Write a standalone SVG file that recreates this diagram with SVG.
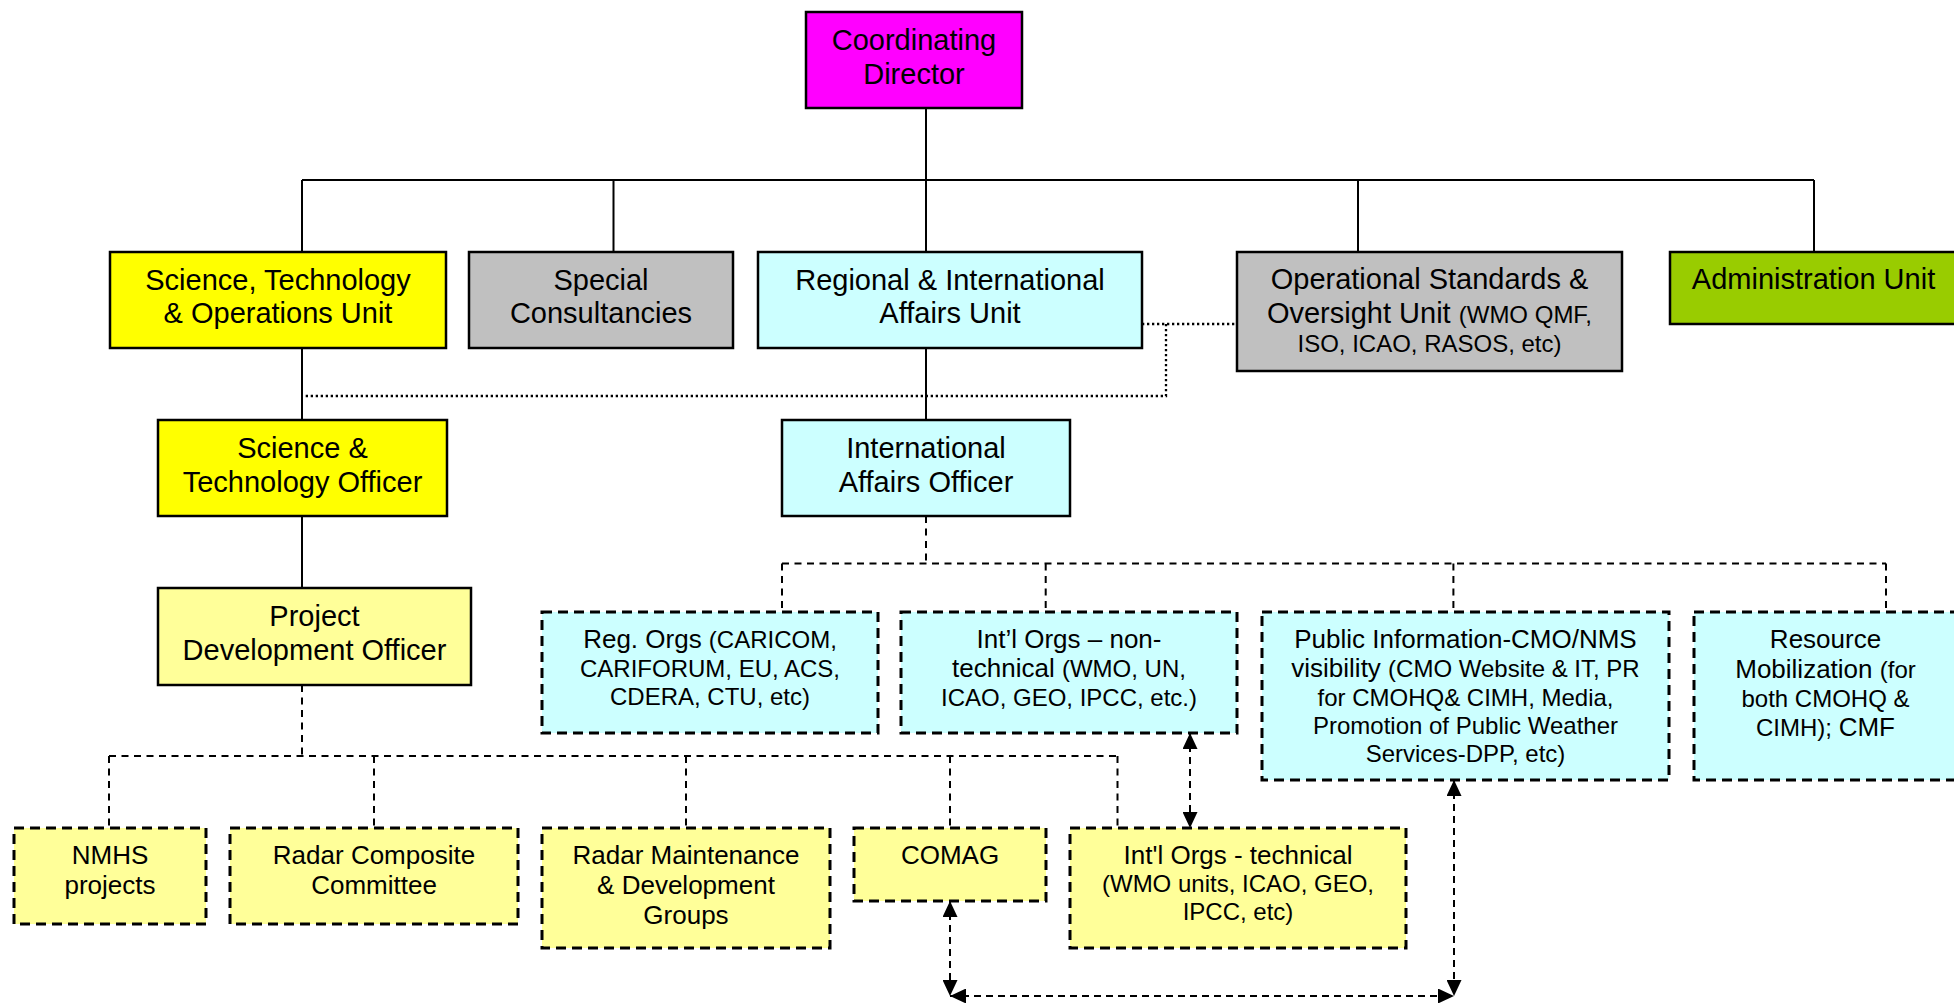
<svg xmlns="http://www.w3.org/2000/svg" width="1954" height="1003" viewBox="0 0 1954 1003">
<style>
  text { font-family: "Liberation Sans", Arial, sans-serif; fill: #000; text-anchor: middle; }
  .t29 { font-size: 29px; }
  .t26 { font-size: 26px; }
  .s { font-size: 24px; }
  .b { font-size: 26px; }
  .solid { stroke: #000; stroke-width: 2.5; }
  .dash { stroke: #000; stroke-width: 3; stroke-dasharray: 10 6; }
  .conn { fill: none; stroke: #000; stroke-width: 2; }
  .cdash { fill: none; stroke: #000; stroke-width: 2; stroke-dasharray: 7 5.5; }
  .cdot { fill: none; stroke: #000; stroke-width: 2.3; stroke-dasharray: 2.3 2.7; }
  .arrow { fill: none; stroke: #000; stroke-width: 2; stroke-dasharray: 7 5; marker-start: url(#ah); marker-end: url(#ah); }
</style>
<defs>
  <marker id="ah" markerUnits="userSpaceOnUse" markerWidth="16" markerHeight="15" refX="16" refY="7.5" orient="auto-start-reverse" viewBox="0 0 16 15">
    <path d="M0,0 L16,7.5 L0,15 z" fill="#000"/>
  </marker>
</defs>

<g id="connectors">
  <path class="conn" d="M926,108 V252 M302,180 H1814 M302,180 V252 M613.5,180 V252 M1358,180 V252 M1814,180 V252"/>
  <path class="conn" d="M302,348 V420 M302,516 V588 M926,348 V420"/>
  <path class="cdot" d="M1142,324 H1237 M1166,324 V396 H302"/>
  <path class="cdash" d="M302,685 V756 M109,756 H1117.5 M109,756 V828 M374,756 V828 M686,756 V828 M950,756 V828 M1117.5,756 V828"/>
  <path class="cdash" d="M926,516 V563.5 M782,563.5 H1886 M782,563.5 V612 M1045.7,563.5 V612 M1453.4,563.5 V612 M1886,563.5 V612"/>
  <line class="arrow" x1="1190" y1="733" x2="1190" y2="828"/>
  <line class="arrow" x1="950" y1="901" x2="950" y2="996"/>
  <line class="arrow" x1="950" y1="996" x2="1454" y2="996"/>
  <line class="arrow" x1="1454" y1="780" x2="1454" y2="996"/>
</g>

<g id="coordinating-director">
  <rect class="solid" x="806" y="12" width="216" height="96" fill="#FF00FF"/>
  <text class="t29" x="914" y="50">Coordinating</text>
  <text class="t29" x="914" y="83.5">Director</text>
</g>

<g id="sto-unit">
  <rect class="solid" x="110" y="252" width="336" height="96" fill="#FFFF00"/>
  <text class="t29" x="278" y="290">Science, Technology</text>
  <text class="t29" x="278" y="323">&amp; Operations Unit</text>
</g>

<g id="special-consultancies">
  <rect class="solid" x="469" y="252" width="264" height="96" fill="#C0C0C0"/>
  <text class="t29" x="601" y="290">Special</text>
  <text class="t29" x="601" y="323">Consultancies</text>
</g>

<g id="regional-international">
  <rect class="solid" x="758" y="252" width="384" height="96" fill="#CCFFFF"/>
  <text class="t29" x="950" y="290">Regional &amp; International</text>
  <text class="t29" x="950" y="323">Affairs Unit</text>
</g>

<g id="operational-standards">
  <rect class="solid" x="1237" y="252" width="385" height="119" fill="#C0C0C0"/>
  <text class="t29" x="1429.5" y="288.5">Operational Standards &amp;</text>
  <text class="t29" x="1429.5" y="322.5">Oversight Unit <tspan class="s">(WMO QMF,</tspan></text>
  <text class="s" x="1429.5" y="351.5">ISO, ICAO, RASOS, etc)</text>
</g>

<g id="administration">
  <rect class="solid" x="1670" y="252" width="290" height="72" fill="#99CC00"/>
  <text class="t29" x="1813.5" y="289">Administration Unit</text>
</g>

<g id="st-officer">
  <rect class="solid" x="158" y="420" width="289" height="96" fill="#FFFF00"/>
  <text class="t29" x="302.5" y="457.5">Science &amp;</text>
  <text class="t29" x="302.5" y="491.5">Technology Officer</text>
</g>

<g id="intl-affairs-officer">
  <rect class="solid" x="782" y="420" width="288" height="96" fill="#CCFFFF"/>
  <text class="t29" x="926" y="457.5">International</text>
  <text class="t29" x="926" y="491.5">Affairs Officer</text>
</g>

<g id="project-dev-officer">
  <rect class="solid" x="158" y="588" width="313" height="97" fill="#FFFF99"/>
  <text class="t29" x="314.5" y="625.5">Project</text>
  <text class="t29" x="314.5" y="659.5">Development Officer</text>
</g>

<g id="reg-orgs">
  <rect class="dash" x="542" y="612" width="336" height="121" fill="#CCFFFF"/>
  <text class="b" x="710" y="648">Reg. Orgs <tspan class="s">(CARICOM,</tspan></text>
  <text class="s" x="710" y="676.5">CARIFORUM, EU, ACS,</text>
  <text class="s" x="710" y="704.5">CDERA, CTU, etc)</text>
</g>

<g id="intl-orgs-nontech">
  <rect class="dash" x="901" y="612" width="336" height="121" fill="#CCFFFF"/>
  <text class="b" x="1069" y="648">Int’l Orgs – non-</text>
  <text class="b" x="1069" y="677">technical <tspan class="s">(WMO, UN,</tspan></text>
  <text class="s" x="1069" y="705.5">ICAO, GEO, IPCC, etc.)</text>
</g>

<g id="public-information">
  <rect class="dash" x="1262" y="612" width="407" height="168" fill="#CCFFFF"/>
  <text class="b" x="1465.5" y="648">Public Information-CMO/NMS</text>
  <text class="b" x="1465.5" y="677">visibility <tspan class="s">(CMO Website &amp; IT, PR</tspan></text>
  <text class="s" x="1465.5" y="706">for CMOHQ&amp; CIMH, Media,</text>
  <text class="s" x="1465.5" y="734">Promotion of Public Weather</text>
  <text class="s" x="1465.5" y="762">Services-DPP, etc)</text>
</g>

<g id="resource-mobilization">
  <rect class="dash" x="1694" y="612" width="263" height="168" fill="#CCFFFF"/>
  <text class="b" x="1825.5" y="648">Resource</text>
  <text class="b" x="1825.5" y="677.5">Mobilization <tspan class="s">(for</tspan></text>
  <text class="s" x="1825.5" y="706.5">both CMOHQ &amp;</text>
  <text class="s" x="1825.5" y="735.5">CIMH); <tspan class="b">CMF</tspan></text>
</g>

<g id="nmhs-projects">
  <rect class="dash" x="14" y="828" width="192" height="96" fill="#FFFF99"/>
  <text class="t26" x="110" y="863.5">NMHS</text>
  <text class="t26" x="110" y="893.5">projects</text>
</g>

<g id="radar-composite">
  <rect class="dash" x="230" y="828" width="288" height="96" fill="#FFFF99"/>
  <text class="t26" x="374" y="863.5">Radar Composite</text>
  <text class="t26" x="374" y="893.5">Committee</text>
</g>

<g id="radar-maintenance">
  <rect class="dash" x="542" y="828" width="288" height="120" fill="#FFFF99"/>
  <text class="t26" x="686" y="863.5">Radar Maintenance</text>
  <text class="t26" x="686" y="893.5">&amp; Development</text>
  <text class="t26" x="686" y="923.5">Groups</text>
</g>

<g id="comag">
  <rect class="dash" x="854" y="828" width="192" height="73" fill="#FFFF99"/>
  <text class="t26" x="950" y="863.5">COMAG</text>
</g>

<g id="intl-orgs-technical">
  <rect class="dash" x="1070" y="828" width="336" height="120" fill="#FFFF99"/>
  <text class="t26" x="1238" y="863.5">Int'l Orgs - technical</text>
  <text class="s" x="1238" y="891.5">(WMO units, ICAO, GEO,</text>
  <text class="s" x="1238" y="919.5">IPCC, etc)</text>
</g>
</svg>
